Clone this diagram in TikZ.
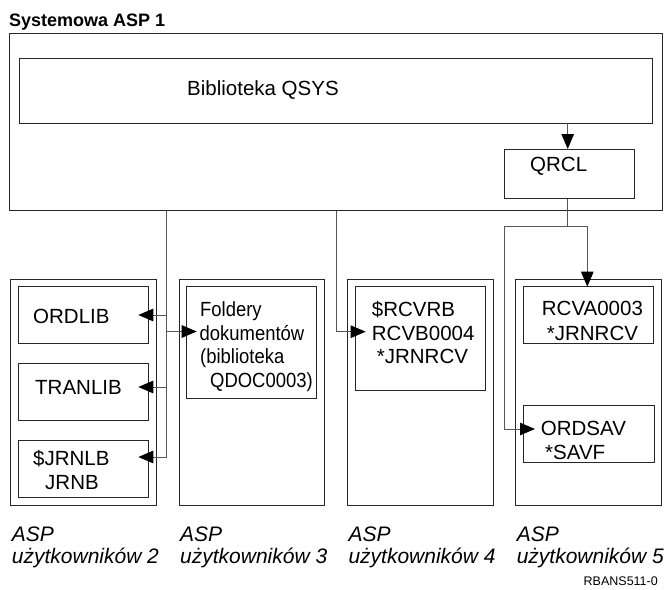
\documentclass[tikz,border=0pt]{standalone}
\usepackage{fontspec}
\setmainfont{Liberation Sans}
\usetikzlibrary{arrows.meta}
\definecolor{boxline}{HTML}{262626}
\definecolor{wirecol}{HTML}{555555}
\tikzset{
  frame/.style={draw=boxline, line width=1pt, inner sep=0pt, outer sep=0pt, anchor=north west},
  lbl/.style={inner sep=0pt, anchor=base west, font=\fontsize{20.5}{24}\selectfont},
  narrowlbl/.style={lbl, font=\fontsize{20.5}{24}\selectfont\addfontfeature{FakeStretch=0.9}},
  asplabel/.style={inner sep=0pt, anchor=base west, font=\fontsize{21}{24}\selectfont\itshape},
  wire/.style={draw=wirecol, line width=1pt},
  arr/.style={wire, -{Triangle[length=15pt,width=12.5pt,color=black]}},
}
\begin{document}
\begin{tikzpicture}[x=1pt, y=-1pt]
\useasboundingbox (0,0) rectangle (669,589);

% system ASP
\node[inner sep=0pt, anchor=base west, font=\fontsize{18}{20}\selectfont\bfseries] (title) at (9,26) {Systemowa ASP 1};
\node[frame, minimum width=653.4pt, minimum height=177.5pt] (sys) at (9.3,33) {};
\node[frame, minimum width=633.4pt, minimum height=64.7pt] (qsys) at (19.3,58.3) {};
\node[lbl] (tqsys) at (187,95) {Biblioteka QSYS};
\node[frame, minimum width=130pt, minimum height=49.5pt] (qrcl) at (504,149) {};
\node[lbl] (tqrcl) at (530,171) {QRCL};

% user ASP 2
\node[frame, minimum width=145.5pt, minimum height=226pt] (asp2) at (10.7,279) {};
\node[frame, minimum width=130pt, minimum height=56.6pt] (ordlib) at (18.3,286.7) {};
\node[lbl] (tordlib) at (33,323) {ORDLIB};
\node[frame, minimum width=130pt, minimum height=57pt] (tranlib) at (18.3,363) {};
\node[lbl] (ttranlib) at (35,394) {TRANLIB};
\node[frame, minimum width=130pt, minimum height=57pt] (jrnlb) at (18.3,440) {};
\node[lbl] (tjrnlb) at (33,465) {\$JRNLB};
\node[lbl] (tjrnb) at (45,489.5) {JRNB};

% user ASP 3
\node[frame, minimum width=145.3pt, minimum height=226pt] (asp3) at (179,279) {};
\node[frame, minimum width=130pt, minimum height=111.8pt] (folders) at (186.7,286.7) {};
\node[narrowlbl] (tf1) at (200,316.5) {Foldery};
\node[narrowlbl] (tf2) at (199.5,340) {dokumentów};
\node[narrowlbl] (tf3) at (200,363.5) {(biblioteka};
\node[narrowlbl] (tf4) at (210,387) {QDOC0003)};

% user ASP 4
\node[frame, minimum width=145.7pt, minimum height=226pt] (asp4) at (347.3,279) {};
\node[frame, minimum width=129.6pt, minimum height=104pt] (rcvrb) at (355.7,286.7) {};
\node[lbl] (tr1) at (371.7,316.5) {\$RCVRB};
\node[lbl] (tr2) at (371.7,340) {RCVB0004};
\node[lbl] (tr3) at (376.7,363.5) {*JRNRCV};

% user ASP 5
\node[frame, minimum width=146.7pt, minimum height=226pt] (asp5) at (515,279) {};
\node[frame, minimum width=130pt, minimum height=56.6pt] (rcva) at (523.3,286.7) {};
\node[lbl] (ta1) at (541.7,315.5) {RCVA0003};
\node[lbl] (ta2) at (546.7,340) {*JRNRCV};
\node[frame, minimum width=130.7pt, minimum height=57.7pt] (ordsav) at (523.3,405) {};
\node[lbl] (ts1) at (540.7,435.5) {ORDSAV};
\node[lbl] (ts2) at (545,459.5) {*SAVF};

% captions
\node[asplabel] (c2a) at (11.7,541.7) {ASP};
\node[asplabel] (c2b) at (11.7,563.3) {użytkowników 2};
\node[asplabel] (c3a) at (180,541.7) {ASP};
\node[asplabel] (c3b) at (180,563.3) {użytkowników 3};
\node[asplabel] (c4a) at (348.3,541.7) {ASP};
\node[asplabel] (c4b) at (348.3,563.3) {użytkowników 4};
\node[asplabel] (c5a) at (516.6,541.7) {ASP};
\node[asplabel] (c5b) at (516.6,563.3) {użytkowników 5};
\node[inner sep=0pt, anchor=base east, font=\fontsize{12.5}{14}\selectfont] (code) at (658,585) {RBANS511-0};

% wiring points
\coordinate (busA) at (166.7,0);
\coordinate (busB) at (336,0);
\coordinate (busC) at (567.7,0);
\coordinate (splitL) at (504,226);
\coordinate (splitR) at (587.3,226);
\coordinate (inOrd) at (138.3,315);
\coordinate (inDok) at (196.7,331.5);
\coordinate (inTran) at (138.3,387);
\coordinate (inJrn) at (138.3,457);
\coordinate (inRcv) at (365.7,331.7);
\coordinate (inSav) at (535,429);

% QSYS to QRCL
\draw[arr] (qsys.south -| busC) -- (qrcl.north -| busC);
% QRCL to ASP 5
\draw[wire] (qrcl.south -| busC) -- (busC |- splitL);
\draw[wire] (splitL) -- (splitR);
\draw[arr] (splitR) -- (rcva.north -| splitR);
\draw[arr] (splitL) -- (splitL |- inSav) -- (inSav);
% system ASP to ASP 2 and 3
\draw[wire] (sys.south -| busA) -- (busA |- inJrn);
\draw[arr] (busA |- inOrd) -- (inOrd);
\draw[arr] (busA |- inDok) -- (inDok);
\draw[arr] (busA |- inTran) -- (inTran);
\draw[arr] (busA |- inJrn) -- (inJrn);
% system ASP to ASP 4
\draw[arr] (sys.south -| busB) -- (busB |- inRcv) -- (inRcv);
\end{tikzpicture}
\end{document}
